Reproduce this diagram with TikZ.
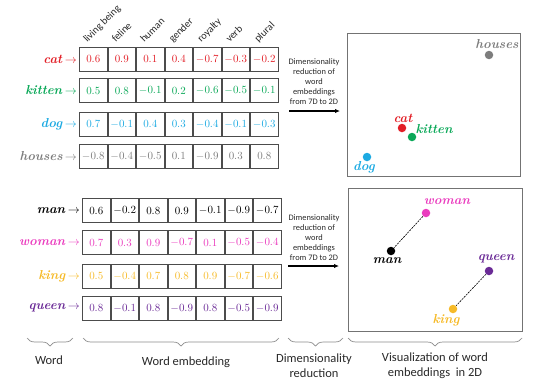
\documentclass[tikz,border=0pt]{standalone}
\usepackage{fontspec}
\newfontfamily\carl{Carlito}
\usetikzlibrary{arrows.meta,decorations.pathreplacing}
\definecolor{ccat}{RGB}{226,30,38}
\definecolor{ckit}{RGB}{10,168,88}
\definecolor{cdog}{RGB}{28,170,226}
\definecolor{chou}{RGB}{125,125,125}
\definecolor{cman}{RGB}{0,0,0}
\definecolor{cwom}{RGB}{234,60,190}
\definecolor{ckin}{RGB}{246,186,40}
\definecolor{cque}{RGB}{106,42,150}
\definecolor{txt}{RGB}{40,40,40}
\tikzset{
  cell/.style={draw=black!70,line width=0.7pt,minimum width=27.6pt,minimum height=24pt,inner sep=0pt,outer sep=0pt,font=\fontsize{11}{13}\selectfont},
  wordlbl/.style={anchor=east,inner sep=0pt,font=\fontsize{13}{15}\selectfont},
  hdr/.style={rotate=45,anchor=base west,inner sep=0pt,text=txt,font=\carl\fontsize{10.3}{11}\selectfont},
  dot/.style={circle,inner sep=0pt,minimum size=8.5pt},
  ptlbl/.style={inner sep=0pt,font=\fontsize{13}{15}\selectfont\bfseries\itshape},
  note/.style={align=center,inner sep=0pt,text=txt,font=\carl\fontsize{8.4}{10}\selectfont},
  panel/.style={draw=black!55,line width=1pt,inner sep=0pt},
  redarrow/.style={-{Latex[length=5pt,width=4.5pt]},line width=1.3pt},
  brace/.style={decorate,decoration={brace,mirror,amplitude=8pt},draw=black!45,line width=0.7pt},
  bracelbl/.style={align=center,inner sep=0pt,text=txt,font=\carl\fontsize{12.5}{15}\selectfont},
  link/.style={dashed,line width=0.6pt,dash pattern=on 2pt off 1pt}
}
\newcommand\embrow[6]{%
  \foreach \v [count=\i] in {#6} {
    \node[cell,text=#5] (#1-\i) at ({#2+(\i-0.5)*28.5},#3) {$\v$};
  }
  \node[wordlbl,text=#5] (#1) at ({#2-2},#3) {\textbf{\textit{#4}}\,$\rightarrow$};
}
\begin{document}
\begin{tikzpicture}[x=1pt,y=-1pt]
\useasboundingbox (0,0) rectangle (546,391);
% headers
\foreach \h [count=\i] in {living being,feline,human,gender,royalty,verb,plural} {
  \node[hdr] (h\i) at ({79+(\i-0.5)*28.5-6},43) {\h};
}
% top table
\embrow{cat}{79}{59}{cat}{ccat}{0.6,0.9,0.1,0.4,-0.7,-0.3,-0.2}
\embrow{kitten}{79}{90.5}{kitten}{ckit}{0.5,0.8,-0.1,0.2,-0.6,-0.5,-0.1}
\embrow{dog}{79}{124}{dog}{cdog}{0.7,-0.1,0.4,0.3,-0.4,-0.1,-0.3}
\embrow{houses}{79}{156}{houses}{chou}{-0.8,-0.4,-0.5,0.1,-0.9,0.3,0.8}
% bottom table
\embrow{man}{82}{210.5}{man}{cman}{0.6,-0.2,0.8,0.9,-0.1,-0.9,-0.7}
\embrow{woman}{82}{242.5}{woman}{cwom}{0.7,0.3,0.9,-0.7,0.1,-0.5,-0.4}
\embrow{king}{82}{276}{king}{ckin}{0.5,-0.4,0.7,0.8,0.9,-0.7,-0.6}
\embrow{queen}{82}{308}{queen}{cque}{0.8,-0.1,0.8,-0.9,0.8,-0.5,-0.9}
% dimensionality reduction notes
\node[note] (n1) at (314,82) {Dimensionality\\reduction of\\word\\embeddings\\from 7D to 2D};
\coordinate (a1s) at (289,111); \coordinate (a1e) at (340,111);
\draw[redarrow] (a1s) -- (a1e);
\node[note] (n2) at (314,238) {Dimensionality\\reduction of\\word\\embeddings\\from 7D to 2D};
\coordinate (a2s) at (288,266); \coordinate (a2e) at (339,266);
\draw[redarrow] (a2s) -- (a2e);
% panels
\node[panel,minimum width=173pt,minimum height=143pt] (box1) at (433.5,104.5) {};
\node[panel,minimum width=174pt,minimum height=143pt] (box2) at (435,259.5) {};
% top scatter
\node[dot,fill=chou] (phou) at (489,55) {};
\node[ptlbl,text=chou] (lhou) at (497,44) {houses};
\node[dot,fill=ccat] (pcat) at (402,128) {};
\node[ptlbl,text=ccat] (lcat) at (403,118) {cat};
\node[dot,fill=ckit] (pkit) at (412,137) {};
\node[ptlbl,text=ckit] (lkit) at (434,129) {kitten};
\node[dot,fill=cdog] (pdog) at (367,157) {};
\node[ptlbl,text=cdog] (ldog) at (364,167) {dog};
% bottom scatter
\node[dot,fill=cwom] (pwom) at (426,213) {};
\node[ptlbl,text=cwom] (lwom) at (447,202) {woman};
\node[dot,fill=cman] (pman) at (391,251) {};
\node[ptlbl,text=cman] (lman) at (387,261) {man};
\node[dot,fill=cque] (pque) at (489,271) {};
\node[ptlbl,text=cque] (lque) at (496,259) {queen};
\node[dot,fill=ckin] (pkin) at (453,309) {};
\node[ptlbl,text=ckin] (lkin) at (446,320) {king};
\draw[link] (pwom) -- (pman);
\draw[link] (pque) -- (pkin);
% braces
\coordinate (b1a) at (27,338); \coordinate (b1b) at (73,338);
\coordinate (b2a) at (83,338); \coordinate (b2b) at (279,338);
\coordinate (b3a) at (288,338); \coordinate (b3b) at (343,338);
\coordinate (b4a) at (348,338); \coordinate (b4b) at (522,338);
\draw[brace] (b1a) -- (b1b);
\draw[brace] (b2a) -- (b2b);
\draw[brace] (b3a) -- (b3b);
\draw[brace] (b4a) -- (b4b);
\node[bracelbl] (w1) at (49,360) {Word};
\node[bracelbl] (w2) at (186,362) {Word embedding};
\node[bracelbl] (w3) at (314,366) {Dimensionality\\reduction};
\node[bracelbl] (w4) at (435,366) {Visualization of word\\embeddings~ in 2D};
\end{tikzpicture}
\end{document}
